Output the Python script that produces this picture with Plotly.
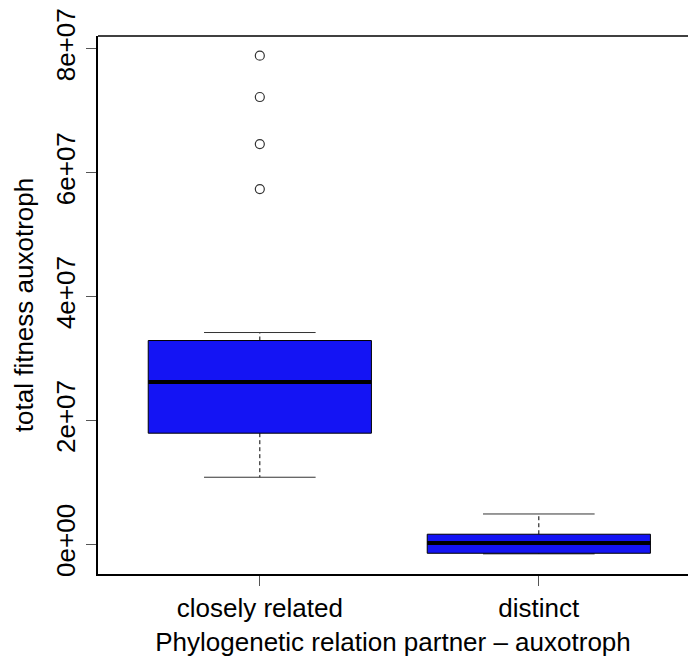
import plotly.graph_objects as go

# ---- data ----
groups = ["closely related", "distinct"]
positions = [1, 2]
q1 = [1.793e7, -0.145e7]
median = [2.62e7, 0.021e7]
q3 = [3.289e7, 0.162e7]
lower_whisker = [1.082e7, -0.155e7]
upper_whisker = [3.418e7, 0.489e7]
outliers_closely = [7.887e7, 7.22e7, 6.461e7, 5.734e7]

y_tickvals = [0, 2e7, 4e7, 6e7, 8e7]
y_ticktext = ["0e+00", "2e+07", "4e+07", "6e+07", "8e+07"]

BOX_HALF = 0.4
CAP_HALF = 0.2
FILL = "#1414F4"
FONT = "Liberation Sans, Arial, sans-serif"

fig = go.Figure()

for i, c in enumerate(positions):
    # whiskers (dashed)
    fig.add_trace(go.Scatter(x=[c, c], y=[q3[i], upper_whisker[i]], mode="lines",
                             line=dict(color="black", width=1, dash="4px,3px"),
                             showlegend=False, hoverinfo="skip"))
    fig.add_trace(go.Scatter(x=[c, c], y=[q1[i], lower_whisker[i]], mode="lines",
                             line=dict(color="black", width=1, dash="4px,3px"),
                             showlegend=False, hoverinfo="skip"))
    # caps
    fig.add_trace(go.Scatter(x=[c - CAP_HALF, c + CAP_HALF], y=[upper_whisker[i]] * 2,
                             mode="lines", line=dict(color="#333", width=1),
                             showlegend=False, hoverinfo="skip"))
    fig.add_trace(go.Scatter(x=[c - CAP_HALF, c + CAP_HALF], y=[lower_whisker[i]] * 2,
                             mode="lines", line=dict(color="#333", width=1),
                             showlegend=False, hoverinfo="skip"))
    # box
    fig.add_trace(go.Scatter(
        x=[c - BOX_HALF, c + BOX_HALF, c + BOX_HALF, c - BOX_HALF, c - BOX_HALF],
        y=[q1[i], q1[i], q3[i], q3[i], q1[i]],
        mode="lines", fill="toself", fillcolor=FILL,
        line=dict(color="black", width=1), showlegend=False, hoverinfo="skip"))
    # median
    fig.add_trace(go.Scatter(x=[c - BOX_HALF, c + BOX_HALF], y=[median[i]] * 2,
                             mode="lines", line=dict(color="black", width=4),
                             showlegend=False, hoverinfo="skip"))

# outliers
fig.add_trace(go.Scatter(x=[positions[0]] * len(outliers_closely), y=outliers_closely,
                         mode="markers",
                         marker=dict(symbol="circle-open", size=9,
                                     line=dict(color="#333", width=1.2), color="#333"),
                         showlegend=False, hoverinfo="skip"))

fig.update_layout(
    width=688, height=657,
    margin=dict(l=98, r=0, t=36, b=83),
    paper_bgcolor="white", plot_bgcolor="white",
    font=dict(family=FONT, color="black", size=26),
    xaxis=dict(range=[0.42, 0.42 + 590 / 279.0], tickvals=positions, ticktext=groups,
               showgrid=False, zeroline=False, showline=True, linecolor="black",
               linewidth=1.5, ticks="outside", ticklen=10, tickcolor="#555",
               tickfont=dict(size=26),
               title=dict(text="Phylogenetic relation partner \u2013 auxotroph",
                          font=dict(size=26), standoff=12)),
    yaxis=dict(range=[-0.48e7, 8.205e7], tickvals=y_tickvals, ticktext=y_ticktext,
               showgrid=False, zeroline=False, showline=True, linecolor="black",
               linewidth=1.5, ticks="outside", ticklen=10, tickcolor="#555",
               tickangle=-90, tickfont=dict(size=26), ticklabelstandoff=1,
               title=dict(text="total fitness auxotroph", font=dict(size=26), standoff=10)),
    shapes=[dict(type="line", xref="paper", yref="paper", x0=0, x1=1, y0=1, y1=1,
                 line=dict(color="black", width=1.5))],
)

fig.write_html("out.html")
